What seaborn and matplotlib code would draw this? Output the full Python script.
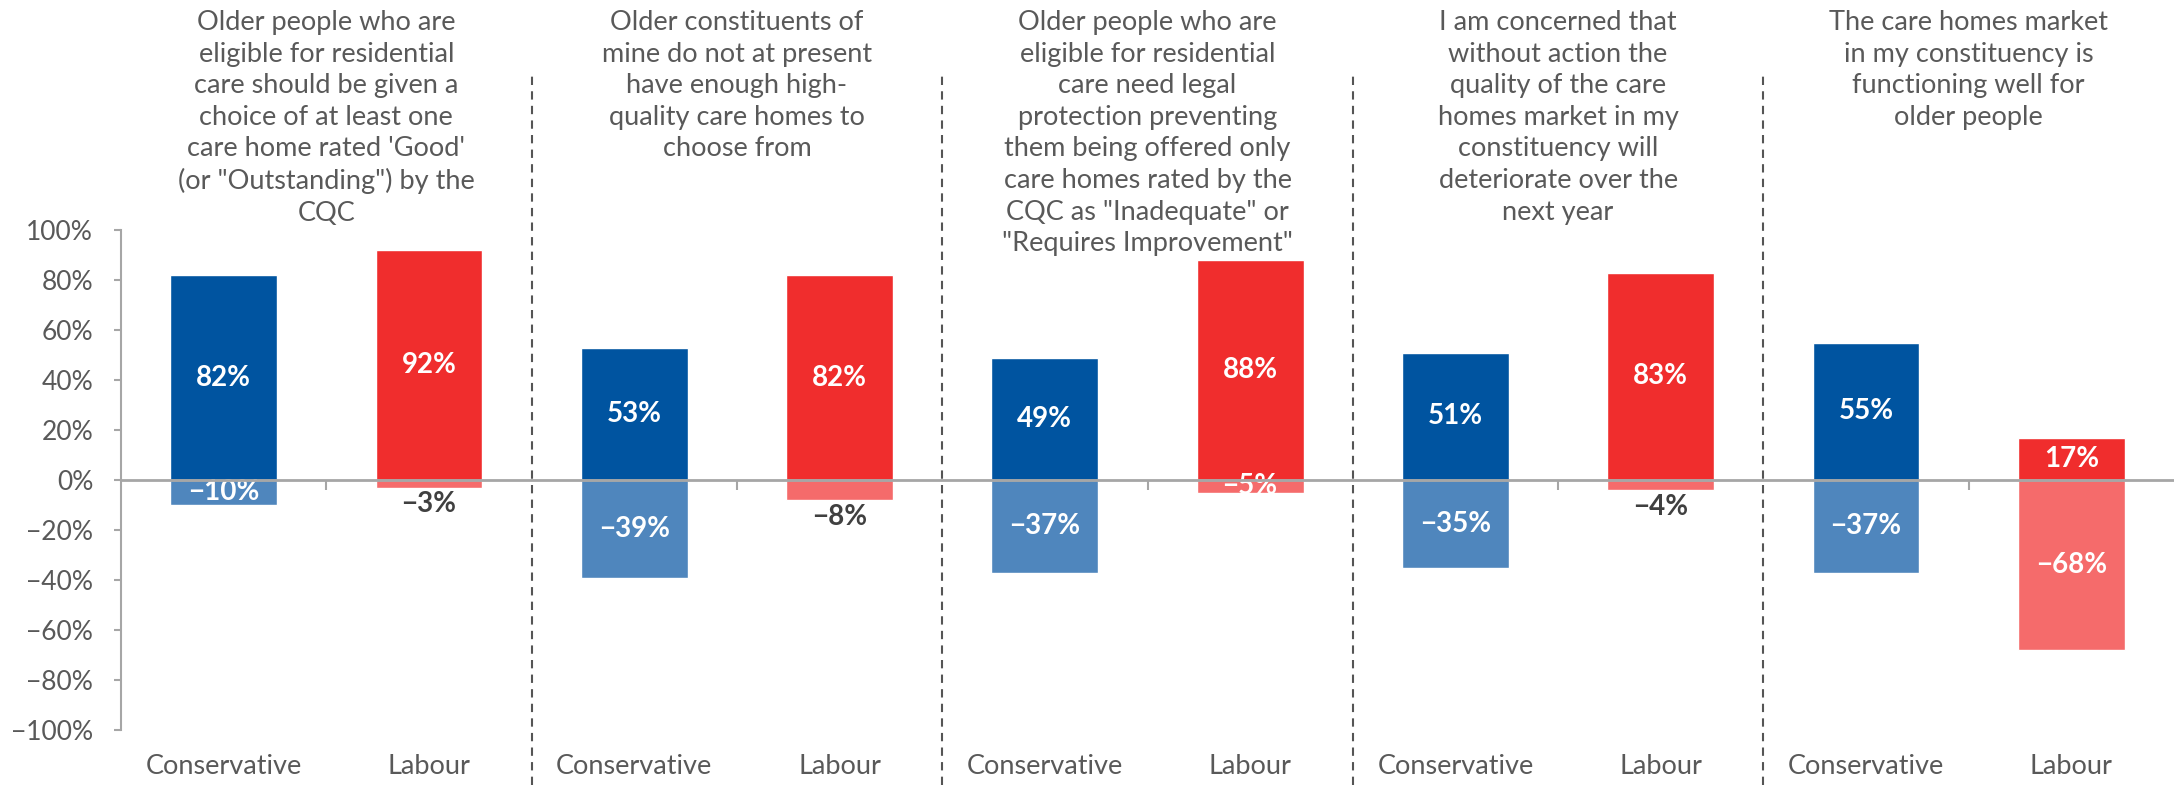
import numpy as np
import pandas as pd
import matplotlib
matplotlib.use('Agg')
import matplotlib.pyplot as plt
import matplotlib.transforms as mtransforms
import seaborn as sns

# survey statements (one per group), as wrapped in the original chart
questions = [
    "Older people who are\neligible for residential\ncare should be given a\nchoice of at least one\ncare home rated 'Good'\n(or \"Outstanding\") by the\nCQC",
    "Older constituents of\nmine do not at present\nhave enough high-\nquality care homes to\nchoose from",
    "Older people who are\neligible for residential\ncare need legal\nprotection preventing\nthem being offered only\ncare homes rated by the\nCQC as \"Inadequate\" or\n\"Requires Improvement\"",
    "I am concerned that\nwithout action the\nquality of the care\nhomes market in my\nconstituency will\ndeteriorate over the\nnext year",
    "The care homes market\nin my constituency is\nfunctioning well for\nolder people",
]
parties = ['Conservative', 'Labour']
agree_con = [82, 53, 49, 51, 55]
disagree_con = [-10, -39, -37, -35, -37]
agree_lab = [92, 82, 88, 83, 17]
disagree_lab = [-3, -8, -5, -4, -68]
# small negative labels that the original puts under the bar
lab_below = [True, True, False, True, False]
y_ticks = [-100, -80, -60, -40, -20, 0, 20, 40, 60, 80, 100]

text_color = '#595959'
axis_color = '#A6A6A6'
pos_colors = {'Conservative': '#0054A0', 'Labour': '#F02D2D'}
neg_colors = {'Conservative': '#4F86BD', 'Labour': '#F56B6B'}

rows = []
for i in range(len(questions)):
    rows.append({'slot': f'{i}-Conservative', 'party': 'Conservative',
                 'agree': agree_con[i], 'disagree': disagree_con[i], 'below': False})
    rows.append({'slot': f'{i}-Labour', 'party': 'Labour',
                 'agree': agree_lab[i], 'disagree': disagree_lab[i], 'below': lab_below[i]})
df = pd.DataFrame(rows)
slots = list(df['slot'])

sns.set_style('white')
plt.rcParams['font.family'] = ['Lato', 'DejaVu Sans']

W, H = 2174, 785
fig = plt.figure(figsize=(W / 100, H / 100), dpi=100)
ax = fig.add_axes([121 / W, 55 / H, (W - 121) / W, 500 / H])

sns.barplot(data=df, x='slot', y='agree', hue='party', order=slots,
            palette=pos_colors, dodge=False, width=0.52, saturation=1,
            legend=False, ax=ax)
sns.barplot(data=df, x='slot', y='disagree', hue='party', order=slots,
            palette=neg_colors, dodge=False, width=0.52, saturation=1,
            legend=False, ax=ax)

# value labels
for k, r in df.iterrows():
    ax.text(k, r['agree'] / 2, f"{r['agree']}%", ha='center', va='center',
            color='white', fontsize=20, fontweight='bold')
    v = r['disagree']
    lab = f"\u2212{abs(v)}%"
    if r['below']:
        ax.text(k, v - 1.5, lab, ha='center', va='top',
                color='#404040', fontsize=20, fontweight='bold')
    else:
        ax.text(k, v / 2, lab, ha='center', va='center',
                color='white', fontsize=20, fontweight='bold')

ax.set_xlim(-0.5, len(slots) - 0.5)
ax.set_ylim(-100, 100)
ax.set_xlabel('')
ax.set_ylabel('')

ax.spines['top'].set_visible(False)
ax.spines['right'].set_visible(False)
ax.spines['left'].set_color(axis_color)
ax.spines['left'].set_linewidth(1.5)
ax.spines['bottom'].set_position(('data', 0))
ax.spines['bottom'].set_color(axis_color)
ax.spines['bottom'].set_linewidth(2)
ax.spines['bottom'].set_zorder(3)

ax.set_yticks(y_ticks, labels=[f"{t}%".replace('-', '\u2212') for t in y_ticks])
ax.tick_params(axis='y', length=5, width=1.5, color=axis_color, pad=15,
               labelsize=19, labelcolor=text_color, direction='out', left=True)

ax.set_xticks(range(len(slots)), labels=[''] * len(slots))
ax.set_xticks([2 * i + 0.5 for i in range(len(questions))], minor=True)
ax.tick_params(axis='x', which='major', length=0)
ax.tick_params(axis='x', which='minor', length=7, width=1.5, color=axis_color,
               direction='out', bottom=True)

sec = ax.secondary_xaxis('bottom')
sec.set_xticks(range(len(slots)), labels=list(df['party']))
sec.tick_params(length=0, pad=17, labelsize=19.5, labelcolor=text_color)
sec.spines['bottom'].set_visible(False)

# dashed separators between groups
for b in [2 * i + 1.5 for i in range(len(questions) - 1)]:
    ax.axvline(b, ymin=-0.11, ymax=1.314, clip_on=False, color='#555555',
               lw=1.5, ls=(0, (4, 3)))

trans = mtransforms.blended_transform_factory(ax.transData, ax.transAxes)
for i, q in enumerate(questions):
    ax.text(2 * i + 0.5, 1.44, q, ha='center', va='top', transform=trans,
            fontsize=19.5, linespacing=1.33, color=text_color)

fig.savefig('out.png', dpi=100)
